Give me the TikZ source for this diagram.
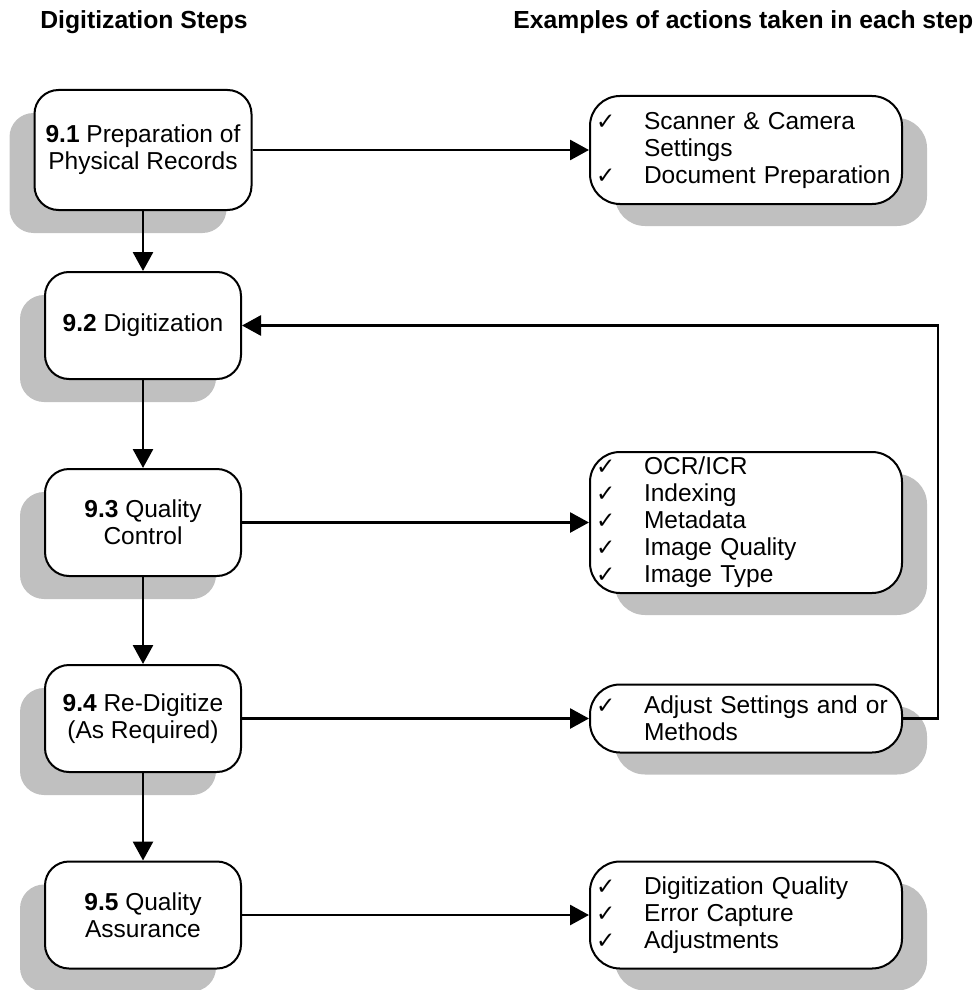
\documentclass[tikz,border=0pt]{standalone}
\usepackage{fontspec}
\setmainfont{Liberation Sans}
\newfontfamily\checkfont{DejaVu Sans}
\usetikzlibrary{shadows,arrows.meta}
\definecolor{shadowgray}{RGB}{192,192,192}
\newcommand{\ckm}{\makebox[24pt][l]{\checkfont\fontsize{11.5}{11.5}\selectfont ✓}}
\newcommand{\nockm}{\makebox[24pt][l]{}}
\begin{document}
\begin{tikzpicture}[x=0.5pt,y=-0.5pt,
  every node/.style={font=\fontsize{12.25}{13.5}\selectfont},
  stepbox/.style={draw=black, line width=1pt, fill=white, rounded corners=12pt,
    minimum width=98pt, minimum height=53.5pt, align=center, inner sep=0pt,
    drop shadow={shadow xshift=-12.5pt, shadow yshift=-11.5pt, fill=shadowgray, opacity=1}},
  actbox/.style={draw=black, line width=1pt, fill=white, rounded corners=15pt,
    minimum width=156pt, text width=150pt, align=left, inner xsep=3pt, inner ysep=0pt,
    drop shadow={shadow xshift=12.5pt, shadow yshift=-11pt, fill=shadowgray, opacity=1}},
  header/.style={anchor=base west, inner sep=0pt, font=\bfseries\fontsize{12.35}{14}\selectfont},
  conn/.style={line width=1.4pt, line join=miter, -{Triangle[length=9.5pt,width=10pt]}}
]
\useasboundingbox (0,0) rectangle (979,990);

\node[header] (h1) at (40,29) {Digitization Steps};
\node[header] (h2) at (513,29) {Examples of actions taken in each step};

\node[stepbox, minimum width=108.5pt, minimum height=60pt] (s1) at (143,150) {\textbf{9.1} Preparation of\\Physical Records};
\node[stepbox] (s2) at (143,325.5) {\textbf{9.2} Digitization};
\node[stepbox] (s3) at (143,522.5) {\textbf{9.3} Quality\\Control};
\node[stepbox] (s4) at (143,718.5) {\textbf{9.4} Re-Digitize\\(As Required)};
\node[stepbox] (s5) at (143,915) {\textbf{9.5} Quality\\Assurance};

\node[actbox, minimum height=54pt] (a1) at (746,150) {\ckm Scanner \& Camera\\\nockm Settings\\\ckm Document Preparation};
\node[actbox, minimum height=70.5pt] (a2) at (746,522.5) {\ckm OCR/ICR\\\ckm Indexing\\\ckm Metadata\\\ckm Image Quality\\\ckm Image Type};
\node[actbox, minimum height=34pt] (a3) at (746,718.5) {\ckm Adjust Settings and or\\\nockm Methods};
\node[actbox, minimum height=53.5pt] (a4) at (746,915) {\ckm Digitization Quality\\\ckm Error Capture\\\ckm Adjustments};

\coordinate (fb) at (938,0);

\draw[conn] (s1) -- (s2);
\draw[conn] (s2) -- (s3);
\draw[conn] (s3) -- (s4);
\draw[conn] (s4) -- (s5);

\draw[conn] (s1) -- (a1);
\draw[conn] (s3) -- (a2);
\draw[conn] (s4) -- (a3);
\draw[conn] (s5) -- (a4);

\draw[conn] (a3.east) -- (a3.east -| fb) |- (s2.east);
\end{tikzpicture}
\end{document}
